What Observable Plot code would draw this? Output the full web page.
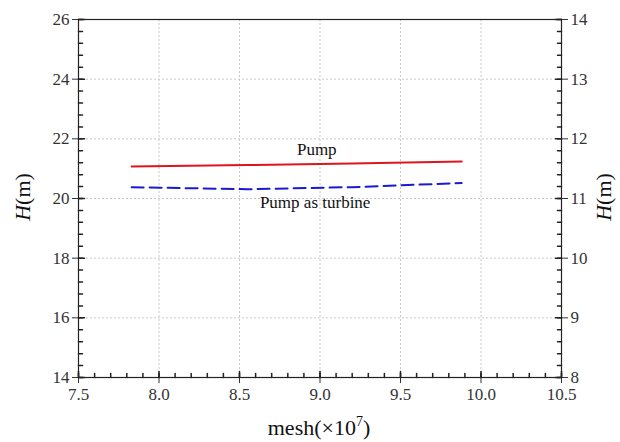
<!DOCTYPE html>
<html><head><meta charset="utf-8">
<script src="https://cdn.jsdelivr.net/npm/d3@7"></script>
<script src="https://cdn.jsdelivr.net/npm/@observablehq/plot@0.6"></script>
<style>
body{margin:0;background:#fff}
</style>
</head><body><div id="chart"></div>
<script>
// Data
const meshX = [7.83, 8.55, 9.2, 9.88];
const pumpH = [21.07, 21.12, 21.17, 21.24];
const turbineH = [20.38, 20.31, 20.38, 20.52];
const leftTicks = [14, 16, 18, 20, 22, 24, 26];
const rightTicks = [8, 9, 10, 11, 12, 13, 14];
const xTicks = [7.5, 8.0, 8.5, 9.0, 9.5, 10.0, 10.5];
const xGrid = [8.0, 8.5, 9.0, 9.5, 10.0];
const yGrid = [16, 18, 20, 22, 24];
const labelNames = ["Pump", "Pump as turbine"];
const labelX = [8.98, 8.97];
const labelY = [21.64, 19.88];

const pumpData = meshX.map((x, i) => ({x, y: pumpH[i]}));
const turbineData = meshX.map((x, i) => ({x, y: turbineH[i]}));
const labelData = labelNames.map((t, i) => ({text: t, x: labelX[i], y: labelY[i]}));
// right axis: value r maps to left scale 14 + (r-8)*2
const rightToLeft = r => 14 + (r - 8) * 2;
const leftToRight = v => 8 + (v - 14) / 2;
const yMinor = d3.range(0, 31).map(i => 14 + i * 0.4);
const xMinor = d3.range(0, 31).map(i => 7.5 + i * 0.1);

const FONT = "'Liberation Serif', 'Times New Roman', serif";
const tickShape = {draw(context, l) { context.moveTo(0, 0); context.lineTo(0, -l); }};

const chart = Plot.plot({
  width: 620,
  height: 442,
  marginLeft: 78,
  marginRight: 59,
  marginTop: 19,
  marginBottom: 65,
  style: {color: "#222", background: "#fff"},
  x: {domain: [7.5, 10.5]},
  y: {domain: [14, 26]},
  marks: [
    Plot.ruleX(xGrid, {stroke: "#c8c8c8", strokeDasharray: "2,2"}),
    Plot.ruleY(yGrid, {stroke: "#c8c8c8", strokeDasharray: "2,2"}),
    // minor inward ticks
    Plot.vector(yMinor, {x: 7.5, y: d => d, rotate: 90, length: 4, anchor: "start", shape: tickShape, stroke: "#222"}),
    Plot.vector(yMinor, {x: 10.5, y: d => d, rotate: -90, length: 4, anchor: "start", shape: tickShape, stroke: "#222"}),
    Plot.vector(xMinor, {x: d => d, y: 14, rotate: 0, length: 4, anchor: "start", shape: tickShape, stroke: "#222"}),
    // major inward ticks
    Plot.vector(leftTicks, {x: 7.5, y: d => d, rotate: 90, length: 6, anchor: "start", shape: tickShape, stroke: "#222"}),
    Plot.vector(rightTicks.map(rightToLeft), {x: 10.5, y: d => d, rotate: -90, length: 6, anchor: "start", shape: tickShape, stroke: "#222"}),
    Plot.vector(xTicks, {x: d => d, y: 14, rotate: 0, length: 6, anchor: "start", shape: tickShape, stroke: "#222"}),
    Plot.axisY({anchor: "left", ticks: leftTicks, tickSize: 6, tickPadding: 3, label: null, fontSize: 17, color: "#333"}),
    Plot.axisY({anchor: "right", ticks: rightTicks.map(rightToLeft), tickFormat: leftToRight, tickSize: 6, tickPadding: 3, label: null, fontSize: 17, color: "#333"}),
    Plot.axisX({anchor: "bottom", ticks: xTicks, tickFormat: d3.format(".1f"), tickSize: 6, tickPadding: 4, label: null, fontSize: 17, color: "#333"}),
    Plot.frame({stroke: "#222", strokeWidth: 1.2}),
    Plot.line(pumpData, {x: "x", y: "y", stroke: "#e0141e", strokeWidth: 2}),
    Plot.line(turbineData, {x: "x", y: "y", stroke: "#1a1ad0", strokeWidth: 2, strokeDasharray: "12,6"}),
    Plot.text(labelData, {x: "x", y: "y", text: "text", fontSize: 17, fill: "#111"})
  ]
});
document.getElementById("chart").appendChild(chart);

const svg = d3.select(chart);
function yLabel(cx) {
  const t = svg.append("text")
    .attr("transform", `translate(${cx},197) rotate(-90)`)
    .attr("text-anchor", "middle")
    .attr("dominant-baseline", "middle")
    .attr("font-size", 22)
    .attr("fill", "#111");
  t.append("tspan").attr("font-style", "italic").text("H");
  t.append("tspan").text("(m)");
}
yLabel(25);
yLabel(606);
const xl = svg.append("text")
  .attr("x", 319).attr("y", 435)
  .attr("text-anchor", "middle")
  .attr("font-size", 22)
  .attr("fill", "#111");
xl.append("tspan").text("mesh(×10");
xl.append("tspan").attr("font-size", 14).attr("dy", -9).text("7");
xl.append("tspan").attr("dy", 9).text(")");

// force serif font on every text element
svg.attr("font-family", FONT).style("font-family", FONT);
svg.selectAll("g").attr("font-family", null);
svg.selectAll("text, tspan").attr("font-family", FONT).style("font-family", FONT);
</script>
</body></html>
